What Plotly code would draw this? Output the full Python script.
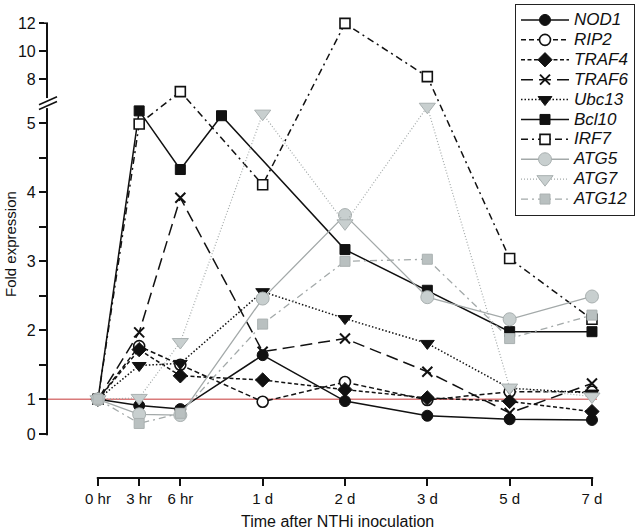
import plotly.graph_objects as go

# ---------------- data ----------------
time_labels = ["0 hr", "3 hr", "6 hr", "1 d", "2 d", "3 d", "5 d", "7 d"]
time_pos = [0, 0.5, 1, 2, 3, 4, 5, 6]          # axis positions of the time points
bcl10_pos = [0, 0.5, 1, 1.5, 3, 4, 5, 6]       # Bcl10 has an intermediate point

NOD1 = [1.0, 0.82, 0.72, 1.64, 0.95, 0.53, 0.43, 0.41]
RIP2 = [1.0, 1.77, 1.50, 0.93, 1.25, 0.98, 1.11, 1.11]
TRAF4 = [1.0, 1.72, 1.34, 1.28, 1.14, 1.02, 0.94, 0.65]
TRAF6 = [1.0, 1.97, 3.92, 1.69, 1.88, 1.40, 0.61, 1.23]
Ubc13 = [1.0, 1.49, 1.52, 2.56, 2.17, 1.81, 1.16, 1.09]
Bcl10 = [1.0, 5.18, 4.33, 5.11, 3.17, 2.58, 1.98, 1.98]
IRF7 = [1.0, 4.99, 7.09, 4.11, 12.0, 8.17, 3.04, 2.16]
ATG5 = [1.0, 0.57, 0.55, 2.46, 3.67, 2.48, 2.16, 2.49]
ATG7 = [1.0, 1.02, 1.83, 5.14, 3.55, 5.24, 1.17, 1.04]
ATG12 = [1.0, 0.31, 0.60, 2.09, 3.00, 3.03, 1.88, 2.22]

y_ticks_low = [0, 1, 2, 3, 4, 5]
y_ticks_minor = [1.5, 2.5, 3.5, 4.5]
y_ticks_high = [8, 10, 12]

# ---------------- broken / piecewise y scale ----------------
def to_u(v):
    """Piecewise scale: 0-1 compressed, 1-6 linear, >6 upper (broken) segment."""
    if v <= 1:
        return v * 35.0 / 69.0
    if v <= 6:
        return 35.0 / 69.0 + (v - 1)
    return 355.3 / 69.0 + (v - 8) * 13.9 / 69.0

FONT = "Liberation Sans, Arial, Helvetica, sans-serif"
W, H = 637, 530
ML, MR, MT, MB = 48, 27, 15, 53
PW, PH = W - ML - MR, H - MT - MB
XPX = 82.33
x0 = -50.0 / XPX
XR = [x0, x0 + PW / XPX]
YR = [-(477 - 434.3) / 69.0, -(477 - 434.3) / 69.0 + PH / 69.0]

def px_x(p):
    return (p - XR[0]) / (XR[1] - XR[0])

def py_u(u):
    return (u - YR[0]) / (YR[1] - YR[0])

fig = go.Figure()

BLACK = "#111111"
GRAY_L = "#a3a9a9"
GRAY_F = "#c8cfcf"
GRAY_E = "#a9b0b0"

series = [
    ("NOD1", NOD1, time_pos, dict(color=BLACK, width=1.5, dash="solid"),
     dict(symbol="circle", size=11, color=BLACK, line=dict(color=BLACK, width=1))),
    ("RIP2", RIP2, time_pos, dict(color=BLACK, width=1.5, dash="5px,3px"),
     dict(symbol="circle", size=11, color="white", line=dict(color=BLACK, width=1.6))),
    ("TRAF4", TRAF4, time_pos, dict(color=BLACK, width=1.5, dash="4px,2.5px"),
     dict(symbol="diamond", size=11, color=BLACK, line=dict(color=BLACK, width=1))),
    ("TRAF6", TRAF6, time_pos, dict(color=BLACK, width=1.5, dash="12px,6px"),
     dict(symbol="x-thin", size=10, color=BLACK, line=dict(color=BLACK, width=2))),
    ("Ubc13", Ubc13, time_pos, dict(color=BLACK, width=1.5, dash="1.5px,2px"),
     dict(symbol="triangle-down", size=12, color=BLACK, line=dict(color=BLACK, width=1))),
    ("Bcl10", Bcl10, bcl10_pos, dict(color=BLACK, width=1.5, dash="solid"),
     dict(symbol="square", size=10, color=BLACK, line=dict(color=BLACK, width=1))),
    ("IRF7", IRF7, time_pos, dict(color=BLACK, width=1.5, dash="7px,4px,2px,4px"),
     dict(symbol="square", size=10, color="white", line=dict(color=BLACK, width=1.6))),
    ("ATG5", ATG5, time_pos, dict(color=GRAY_L, width=1.3, dash="solid"),
     dict(symbol="circle", size=13, color=GRAY_F, line=dict(color=GRAY_E, width=1))),
    ("ATG7", ATG7, time_pos, dict(color=GRAY_L, width=1.2, dash="1px,2px"),
     dict(symbol="triangle-down", size=14, color=GRAY_F, line=dict(color=GRAY_E, width=1))),
    ("ATG12", ATG12, time_pos, dict(color=GRAY_L, width=1.3, dash="7px,4px,2px,4px"),
     dict(symbol="square", size=10, color="#b9c0c0", line=dict(color=GRAY_E, width=1))),
]

for name, vals, xs, line, marker in series:
    fig.add_trace(go.Scatter(
        x=xs, y=[to_u(v) for v in vals], mode="lines+markers",
        name="<span style='font-size:17px'><i>" + name + "</i></span>",
        line=line, marker=marker,
        customdata=vals, hovertemplate="%{customdata}<extra>" + name + "</extra>",
    ))

# reference line at fold = 1
fig.add_shape(type="line", xref="paper", yref="y", x0=0, x1=px_x(6.06),
              y0=to_u(1), y1=to_u(1), line=dict(color="#d97a7a", width=1.5), layer="below")

# masks hiding the parts of the axis lines the reference does not show
def mask(xa, xb, ya, yb):
    fig.add_shape(type="rect", xref="paper", yref="paper", x0=xa, x1=xb, y0=ya, y1=yb,
                  fillcolor="white", line=dict(width=0), layer="above")

dx = 4.0 / PW
dy = 4.0 / PH
# y axis: below 0, break gap, above 12
mask(-dx, dx, -dy, py_u(to_u(0)) - 1.0 / PH)
mask(-dx, dx, py_u(to_u(5.22)), py_u(to_u(6.63)))
mask(-dx, dx, py_u(to_u(12)) + 1.0 / PH, 1 + dy)
# x axis: left of 0 hr, right of 7 d
mask(-dx, px_x(time_pos[0]) - 1.2 / PW, -dy, dy)
mask(px_x(time_pos[-1]) + 1.2 / PW, 1 + dx, -dy, dy)

# break marks
ub = (to_u(5.22) + to_u(6.63)) / 2
for off in (-0.035, 0.035):
    fig.add_shape(type="line", xref="paper", yref="paper",
                  x0=-9.0 / PW, x1=9.0 / PW,
                  y0=py_u(ub + off) - 4.0 / PH, y1=py_u(ub + off) + 4.0 / PH,
                  line=dict(color=BLACK, width=1.6), layer="above")

yt_vals = [to_u(v) for v in y_ticks_low + y_ticks_minor + y_ticks_high]
yt_text = [str(v) for v in y_ticks_low] + ["" for _ in y_ticks_minor] + [str(v) for v in y_ticks_high]

fig.update_layout(
    width=W, height=H,
    margin=dict(l=ML, r=MR, t=MT, b=MB, pad=0, autoexpand=False),
    paper_bgcolor="white", plot_bgcolor="white",
    font=dict(family=FONT, color=BLACK, size=15),
    showlegend=True,
    legend=dict(
        x=(635 - ML) / PW, y=(477 - 4) / PH, xanchor="right", yanchor="top",
        bordercolor="#222222", borderwidth=1, bgcolor="white",
        font=dict(family=FONT, size=13, color=BLACK),
        tracegroupgap=0, itemwidth=48,
    ),
    xaxis=dict(
        range=XR, showgrid=False, zeroline=False,
        showline=True, linecolor=BLACK, linewidth=2.2,
        tickmode="array", tickvals=time_pos, ticktext=time_labels,
        ticks="outside", ticklen=7, tickwidth=2, tickcolor=BLACK,
        tickfont=dict(size=15, family=FONT),
    ),
    yaxis=dict(
        range=YR, showgrid=False, zeroline=False,
        showline=True, linecolor=BLACK, linewidth=2.2,
        tickmode="array", tickvals=yt_vals, ticktext=yt_text,
        ticks="outside", ticklen=7, tickwidth=2, tickcolor=BLACK,
        tickfont=dict(size=16, family=FONT),
    ),
    annotations=[
        dict(text="Time after NTHi inoculation", xref="paper", yref="paper",
             x=(337 - ML) / PW, y=(477 - 521) / PH, showarrow=False,
             xanchor="center", yanchor="middle", font=dict(size=16, family=FONT)),
        dict(text="Fold expression", xref="paper", yref="paper",
             x=(10 - ML) / PW, y=(477 - 244) / PH, showarrow=False, textangle=-90,
             xanchor="center", yanchor="middle", font=dict(size=15, family=FONT)),
    ],
)

fig.write_html("out.html", config={"displayModeBar": False},
               post_script="document.body.style.margin='0px';")
